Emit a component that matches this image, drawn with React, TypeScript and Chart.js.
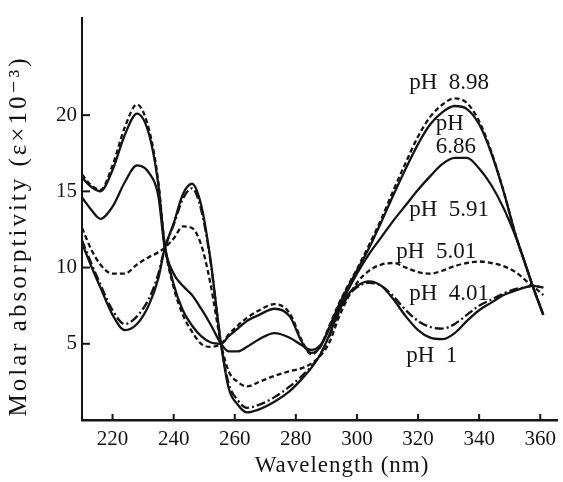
import React, { useEffect, useRef } from "react";
import { Chart, registerables } from "chart.js";

Chart.register(...registerables);

// Wavelength grid (nm)
const wavelengths = [
  210, 213, 216, 220, 224, 228, 232, 235, 237, 240,
  243, 246, 249, 252, 255.5, 258, 261, 264, 268, 273,
  278, 282, 285, 288, 291, 294, 297, 300, 304, 308,
  312, 316, 320, 324, 328, 332, 336, 340, 344, 348,
  352, 355, 357.5, 361,
];

// Molar absorptivity (ε × 10^-3)
const ph898 = [
  16.1, 15.4, 15.1, 16.7, 19.2, 20.7, 19.0, 15.6, 11.6, 8.7,
  6.9, 5.8, 5.0, 4.8, 5.0, 5.6, 6.2, 6.7, 7.2, 7.6,
  7.0, 5.2, 4.3, 4.8, 6.2, 7.6, 8.8, 9.9, 11.5, 13.2,
  15.1, 16.9, 18.6, 19.9, 20.7, 21.1, 20.8, 19.6, 17.6, 15.0,
  12.1, 10.3, 8.8, 6.9,
];
const ph686 = [
  15.9, 15.3, 15.0, 16.4, 18.7, 20.1, 18.7, 15.4, 11.6, 8.9,
  7.2, 6.2, 5.5, 5.1, 5.0, 5.5, 6.0, 6.5, 6.9, 7.3,
  6.8, 5.1, 4.4, 4.8, 6.1, 7.5, 8.7, 9.8, 11.3, 13.0,
  14.8, 16.5, 18.1, 19.4, 20.2, 20.6, 20.4, 19.4, 17.5, 15.0,
  12.1, 10.3, 8.8, 6.9,
];
const ph591 = [
  14.6, 13.8, 13.2, 14.0, 15.6, 16.7, 16.2, 14.7, 11.4, 9.6,
  8.8, 8.2, 7.3, 6.3, 5.0, 4.5, 4.5, 4.8, 5.3, 5.7,
  5.4, 4.9, 4.6, 4.9, 6.0, 7.3, 8.5, 9.6, 10.9, 12.0,
  13.1, 14.1, 15.1, 16.0, 16.8, 17.2, 17.2, 16.5, 15.4, 13.9,
  12.0, 10.3, 8.8, 6.9,
];
const ph501 = [
  12.6, 11.2, 10.2, 9.6, 9.6, 10.2, 10.7, 11.0, 11.3, 11.9,
  12.7, 12.6, 11.5, 9.0, 5.0, 3.2, 2.5, 2.2, 2.5, 2.9,
  3.2, 3.4, 3.7, 4.2, 5.1, 6.7, 8.0, 9.0, 9.8, 10.2,
  10.3, 10.0, 9.7, 9.6, 9.8, 10.1, 10.3, 10.4, 10.3, 10.1,
  9.7, 9.2, 8.8, 8.2,
];
const ph401 = [
  11.8, 10.3, 8.9, 7.2, 6.3, 6.8, 8.0, 9.6, 11.2, 12.8,
  14.5, 15.2, 13.8, 10.5, 5.0, 2.4, 1.3, 0.8, 1.0, 1.5,
  2.2, 2.9, 3.5, 4.3, 5.5, 7.0, 8.1, 8.7, 9.0, 8.8,
  8.1, 7.2, 6.5, 6.1, 6.0, 6.3, 6.9, 7.5, 7.9, 8.3,
  8.6, 8.7, 8.8, 8.7,
];
const ph1 = [
  11.6, 10.1, 8.7, 6.9, 5.9, 6.3, 7.6, 9.3, 11.2, 12.9,
  14.8, 15.5, 14.1, 10.6, 5.0, 2.1, 1.0, 0.5, 0.7, 1.2,
  1.9, 2.7, 3.4, 4.3, 5.6, 7.1, 8.2, 8.8, 9.1, 8.8,
  7.9, 6.8, 5.9, 5.4, 5.3, 5.7, 6.5, 7.2, 7.7, 8.2,
  8.5, 8.7, 8.8, 8.7,
];

const xTickValues = [220, 240, 260, 280, 300, 320, 340, 360];
const yTickValues = [5, 10, 15, 20];

// Curve labels: text and anchor in data units (left edge, baseline)
const labelTexts = ["pH  8.98", "pH", "6.86", "pH  5.91", "pH  5.01", "pH  4.01", "pH  1"];
const labelX = [317.1, 325.8, 325.8, 317.1, 312.9, 317.1, 316.1];
const labelY = [21.7, 19.0, 17.5, 13.4, 10.6, 7.9, 3.8];

const FONT = "'Liberation Serif', 'DejaVu Serif', serif";
const INK = "#141414";

const toPoints = (ys: number[]) => wavelengths.map((x, i) => ({ x, y: ys[i] }));

export default function App() {
  const ref = useRef<HTMLCanvasElement>(null);

  useEffect(() => {
    const canvas = ref.current;
    if (!canvas) return;

    const base = {
      borderColor: INK,
      borderWidth: 2.3,
      pointRadius: 0,
      fill: false,
      cubicInterpolationMode: "monotone" as const,
    };

    const decorations = {
      id: "decorations",
      afterDraw(chart: any) {
        const ctx = chart.ctx as CanvasRenderingContext2D;
        const xs = chart.scales.x;
        const ys = chart.scales.y;
        const area = chart.chartArea;
        ctx.save();
        ctx.strokeStyle = INK;
        ctx.lineWidth = 2;
        // inward tick marks
        xTickValues.forEach((v) => {
          const px = xs.getPixelForValue(v);
          ctx.beginPath();
          ctx.moveTo(px, area.bottom);
          ctx.lineTo(px, area.bottom - 6);
          ctx.stroke();
        });
        yTickValues.forEach((v) => {
          const py = ys.getPixelForValue(v);
          ctx.beginPath();
          ctx.moveTo(area.left, py);
          ctx.lineTo(area.left + 8, py);
          ctx.stroke();
        });
        // curve labels
        ctx.fillStyle = INK;
        ctx.font = `23px ${FONT}`;
        ctx.textAlign = "left";
        ctx.textBaseline = "alphabetic";
        labelTexts.forEach((t, i) => {
          ctx.fillText(t, xs.getPixelForValue(labelX[i]), ys.getPixelForValue(labelY[i]));
        });
        // axis titles
        ctx.font = `23px ${FONT}`;
        (ctx as any).letterSpacing = "1px";
        ctx.textAlign = "center";
        ctx.textBaseline = "middle";
        ctx.fillText("Wavelength (nm)", 342, 466);
        ctx.translate(19, 236);
        ctx.rotate(-Math.PI / 2);
        ctx.font = `25px ${FONT}`;
        (ctx as any).letterSpacing = "3px";
        ctx.fillText("Molar absorptivity (ε×10⁻³)", 0, 0);
        ctx.restore();
      },
    };

    const chart = new Chart(canvas, {
      type: "line",
      data: {
        datasets: [
          { ...base, label: "pH 8.98", data: toPoints(ph898), borderDash: [5, 3] },
          { ...base, label: "pH 6.86", data: toPoints(ph686) },
          { ...base, label: "pH 5.91", data: toPoints(ph591) },
          { ...base, label: "pH 5.01", data: toPoints(ph501), borderDash: [5, 3] },
          { ...base, label: "pH 4.01", data: toPoints(ph401), borderDash: [9, 3, 2, 3] },
          { ...base, label: "pH 1", data: toPoints(ph1) },
        ],
      },
      options: {
        responsive: false,
        devicePixelRatio: 1,
        animation: false,
        layout: { padding: { top: 13, right: 0, left: 0, bottom: 0 } },
        plugins: { legend: { display: false }, tooltip: { enabled: false } },
        scales: {
          x: {
            type: "linear",
            min: 210,
            max: 365.5,
            afterBuildTicks: (s: any) => {
              s.ticks = xTickValues.map((value) => ({ value }));
            },
            afterFit: (s: any) => {
              s.height = 62;
            },
            ticks: {
              font: { family: FONT, size: 21 },
              color: INK,
              padding: 7,
              maxRotation: 0,
              autoSkip: false,
            },
            grid: { display: false, drawTicks: false },
            border: { display: true, color: INK, width: 2.5 },
          },
          y: {
            type: "linear",
            min: 0,
            max: 26.4,
            afterBuildTicks: (s: any) => {
              s.ticks = yTickValues.map((value) => ({ value }));
            },
            afterFit: (s: any) => {
              s.width = 82;
            },
            ticks: {
              font: { family: FONT, size: 21 },
              color: INK,
              padding: 5,
            },
            grid: { display: false, drawTicks: false },
            border: { display: true, color: INK, width: 2 },
          },
        },
      },
      plugins: [decorations],
    });

    return () => chart.destroy();
  }, []);

  return (
    <div style={{ position: "fixed", left: 0, top: 0, width: 563, height: 482, background: "#fff" }}>
      <canvas ref={ref} width={563} height={482} style={{ width: 563, height: 482, display: "block" }} />
    </div>
  );
}
